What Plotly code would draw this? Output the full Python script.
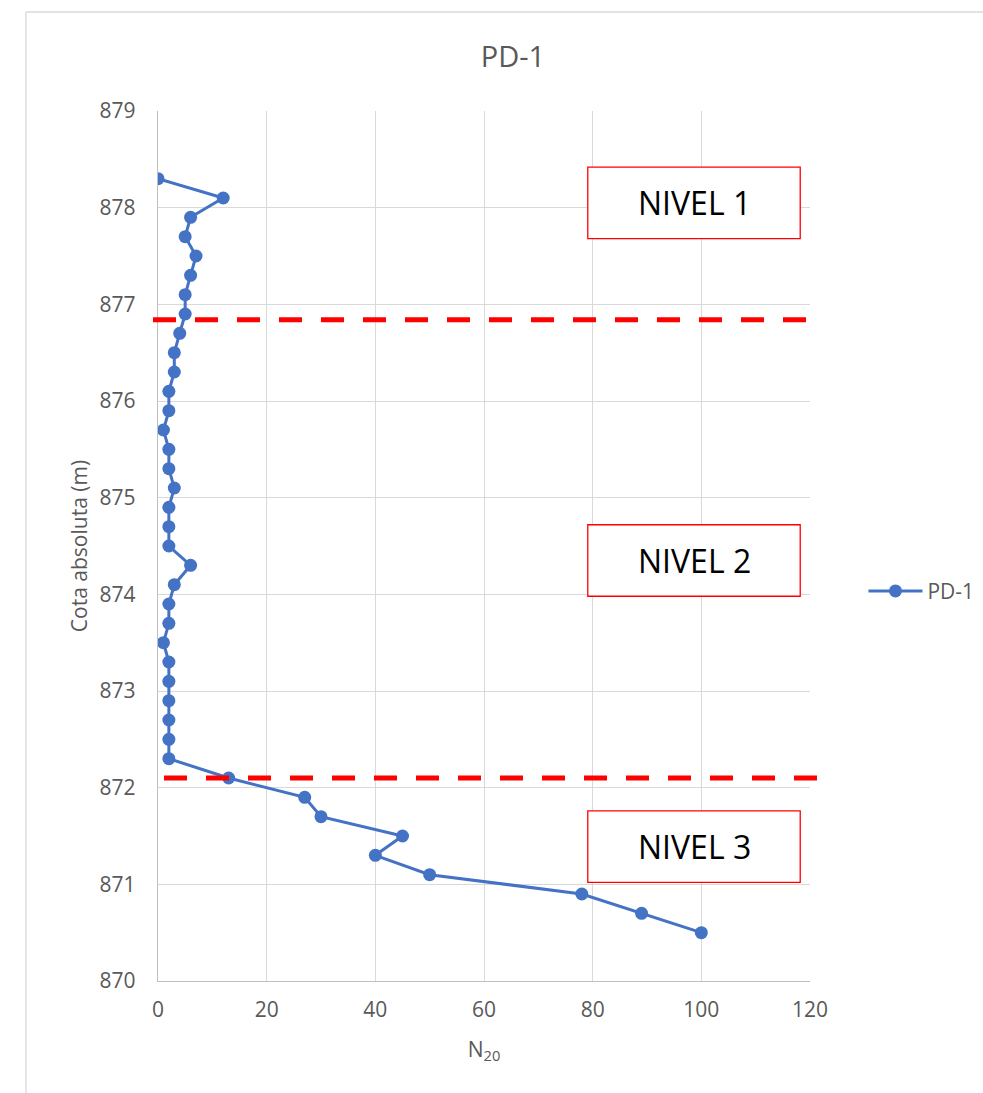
import plotly.graph_objects as go

# N20 blow counts vs absolute elevation (m)
n20 = [0, 12, 6, 5, 7, 6, 5, 5, 4, 3, 3, 2, 2, 1, 2, 2, 3, 2, 2, 2,
       6, 3, 2, 2, 1, 2, 2, 2, 2, 2, 2, 13, 27, 30, 45, 40, 50, 78, 89, 100]
cota = [878.3, 878.1, 877.9, 877.7, 877.5, 877.3, 877.1, 876.9, 876.7, 876.5,
        876.3, 876.1, 875.9, 875.7, 875.5, 875.3, 875.1, 874.9, 874.7, 874.5,
        874.3, 874.1, 873.9, 873.7, 873.5, 873.3, 873.1, 872.9, 872.7, 872.5,
        872.3, 872.1, 871.9, 871.7, 871.5, 871.3, 871.1, 870.9, 870.7, 870.5]

limites = [876.84, 872.1]
niveles = ["NIVEL 1", "NIVEL 2", "NIVEL 3"]
niveles_y = [878.05, 874.35, 871.39]

FONT = "Open Sans"
GRAY = "#595959"
BLUE = "#4472C4"

fig = go.Figure()

fig.add_trace(
    go.Scatter(
        x=n20,
        y=cota,
        name="PD-1",
        mode="lines+markers",
        line={"color": BLUE, "width": 3},
        marker={"color": BLUE, "size": 13},
    )
)

# level boundaries (dashed red)
line_spans = [(-0.0077, 0.9939), (0.0092, 1.0123)]
for y, (x0, x1) in zip(limites, line_spans):
    fig.add_shape(
        type="line", xref="paper", yref="y",
        x0=x0, x1=x1, y0=y, y1=y,
        line={"color": "#FF0000", "width": 5, "dash": "23px,19px"},
    )

# level labels in red boxes
for label, y in zip(niveles, niveles_y):
    fig.add_shape(
        type="rect", xref="x", yref="y",
        x0=79.1, x1=118.2, y0=y - 0.37, y1=y + 0.37,
        line={"color": "#FF0000", "width": 1.3},
        fillcolor="white",
    )
    fig.add_annotation(
        x=98.66, y=y, xref="x", yref="y", text=label, showarrow=False,
        font={"family": FONT, "size": 32, "color": "black"},
    )

# outer chart border (left + top)
fig.add_shape(type="line", xref="paper", yref="paper",
              x0=-0.2025, x1=-0.2025, y0=1.1138, y1=-0.3,
              line={"color": "#d9d9d9", "width": 1.3})
fig.add_shape(type="line", xref="paper", yref="paper",
              x0=-0.2025, x1=1.4, y0=1.1138, y1=1.1138,
              line={"color": "#d9d9d9", "width": 1.3})

fig.update_layout(
    width=983,
    height=1093,
    margin={"l": 158, "r": 173, "t": 111, "b": 112, "autoexpand": False},
    paper_bgcolor="white",
    plot_bgcolor="white",
    font={"family": FONT, "color": GRAY, "size": 21},
    title={
        "text": "PD-1",
        "x": 0.5445, "xref": "paper", "xanchor": "center",
        "y": 0.948, "yref": "container", "yanchor": "middle",
        "font": {"family": FONT, "size": 29, "color": GRAY},
    },
    showlegend=True,
    legend={
        "x": 1.082, "y": 0.448, "xanchor": "left", "yanchor": "middle",
        "font": {"family": FONT, "size": 21, "color": GRAY},
        "itemwidth": 54,
        "bgcolor": "rgba(0,0,0,0)",
    },
)

fig.update_xaxes(
    range=[0, 120], dtick=20, tick0=0,
    showgrid=True, gridcolor="#d9d9d9", gridwidth=1.3,
    showline=True, linecolor="#bfbfbf", linewidth=1.3,
    zeroline=False, ticks="", ticklabelstandoff=10,
    tickfont={"family": FONT, "size": 21, "color": GRAY},
    title={"text": "N<sub>20</sub>", "standoff": 19,
           "font": {"family": FONT, "size": 21, "color": GRAY}},
)
fig.update_yaxes(
    range=[870, 879], dtick=1,
    showgrid=True, gridcolor="#d9d9d9", gridwidth=1.3,
    showline=True, linecolor="#bfbfbf", linewidth=1.3,
    zeroline=False, ticks="", ticklabelstandoff=17,
    tickfont={"family": FONT, "size": 21, "color": GRAY},
    title={"text": "Cota absoluta (m)", "standoff": 6,
           "font": {"family": FONT, "size": 21, "color": GRAY}},
)

# drop the default page margin so the figure sits at the window origin
fig.write_html(
    "out.html",
    config={"displayModeBar": False},
    post_script="document.body.style.margin='0';document.body.style.overflow='hidden';",
)
